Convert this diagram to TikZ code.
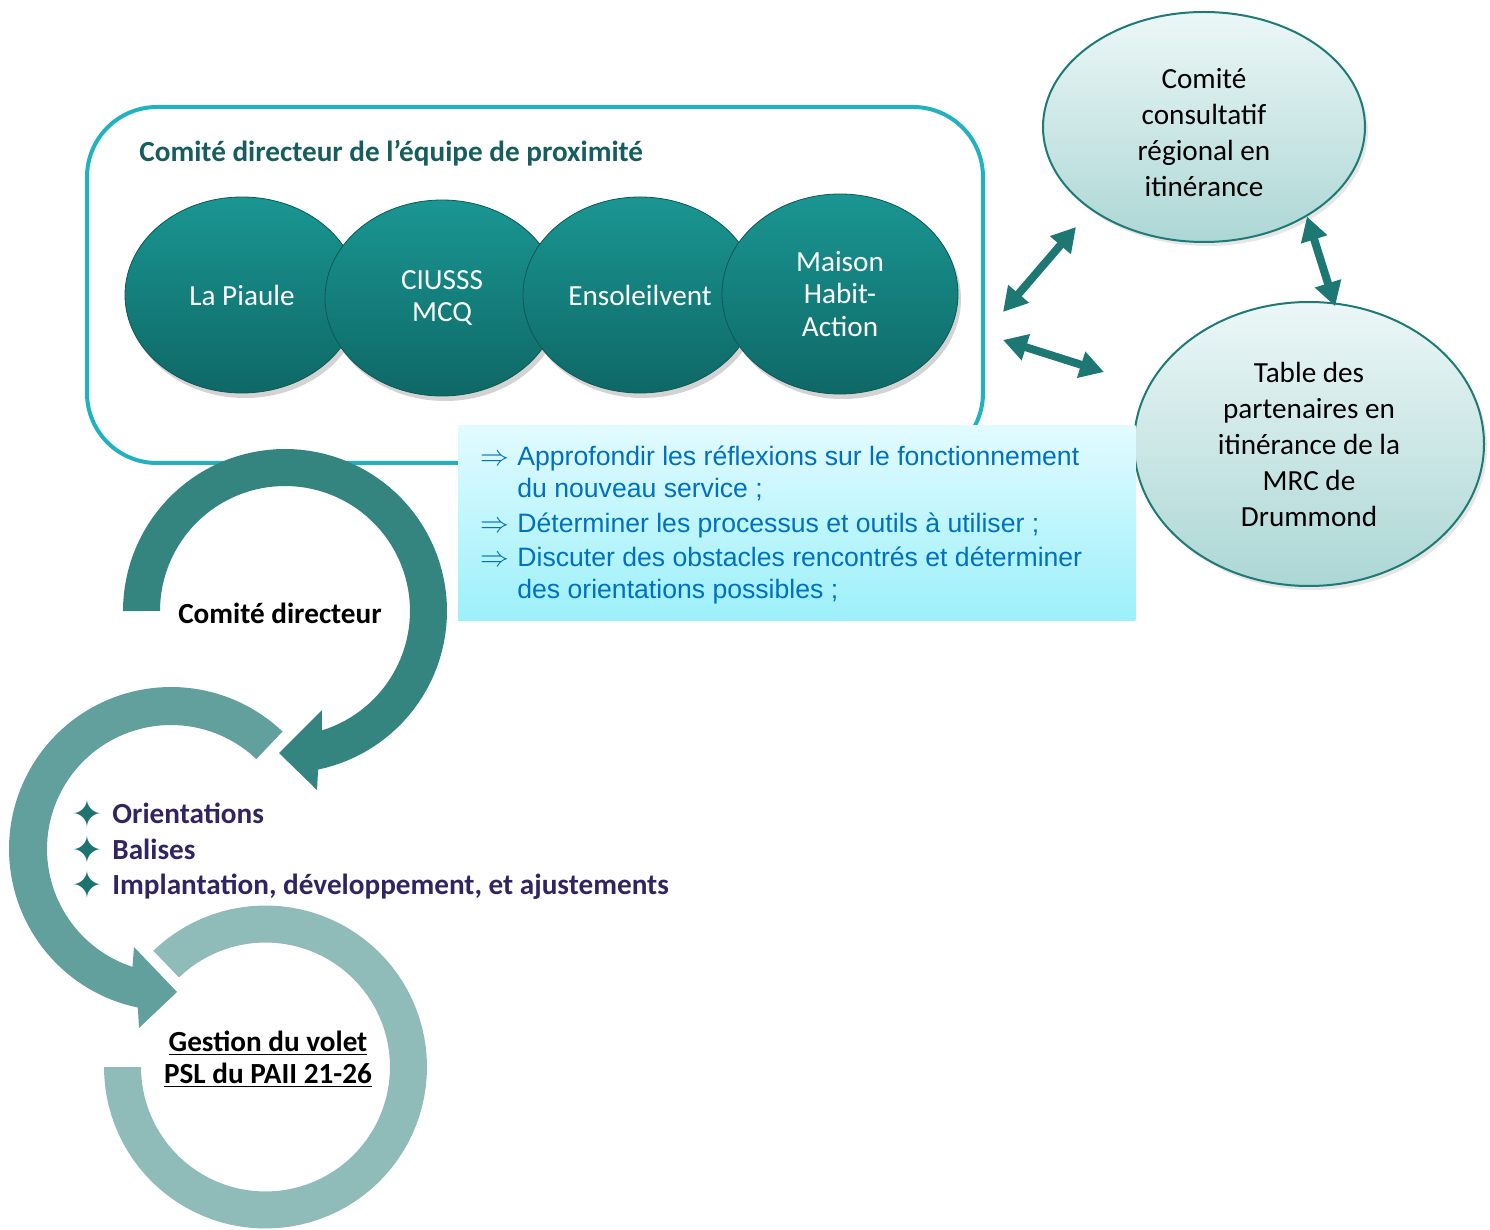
\documentclass[tikz,border=0pt]{standalone}
\usepackage{fontspec}
\setmainfont{Carlito}
\newfontfamily\arialfont{Liberation Sans}
\newfontfamily\symfont{DejaVu Sans}
\usetikzlibrary{shapes.geometric,arrows.meta,shadows}
\definecolor{boxcyan}{RGB}{32,178,192}
\definecolor{titleteal}{RGB}{22,94,94}
\definecolor{darktop}{RGB}{26,150,146}
\definecolor{darkbot}{RGB}{14,104,102}
\definecolor{darkedge}{RGB}{12,88,86}
\definecolor{lighttop}{RGB}{236,247,247}
\definecolor{lightbot}{RGB}{172,215,213}
\definecolor{lightedge}{RGB}{30,122,118}
\definecolor{arrteal}{RGB}{29,120,116}
\definecolor{bluetop}{RGB}{226,251,255}
\definecolor{bluebot}{RGB}{156,240,250}
\definecolor{bluetext}{RGB}{0,112,192}
\definecolor{ringa}{RGB}{52,132,127}
\definecolor{ringb}{RGB}{97,160,156}
\definecolor{ringc}{RGB}{143,187,184}
\definecolor{purpletext}{RGB}{50,36,96}
\definecolor{starteal}{RGB}{30,115,110}
\newcommand\fsz{\fontsize{14.6}{16.2}\selectfont}
\newcommand\fszl{\fontsize{14.6}{18}\selectfont}
\begin{document}
\begin{tikzpicture}[x=0.5pt,y=-0.5pt,
  darkell/.style={ellipse, inner sep=0pt, minimum width=117pt, minimum height=98pt,
    top color=darktop, bottom color=darkbot, draw=darkedge, line width=0.4pt,
    drop shadow={shadow xshift=1.5pt, shadow yshift=-2.5pt, opacity=0.35},
    text=white, align=center, font=\fsz},
  lightell/.style={ellipse, inner sep=0pt, top color=lighttop, bottom color=lightbot,
    draw=lightedge, line width=1pt,
    drop shadow={shadow xshift=1.5pt, shadow yshift=-2pt, opacity=0.2},
    text=black, align=center, font=\fszl},
  dblarrow/.style={draw=arrteal, line width=4pt,
    {Triangle[length=12pt,width=13pt]}-{Triangle[length=12pt,width=13pt]}},
  bluetxt/.style={anchor=base west, inner sep=0pt, text=bluetext, font=\arialfont\fontsize{13.3}{15.5}\selectfont},
  bullettxt/.style={anchor=base west, inner sep=0pt, text=purpletext, font=\bfseries\fsz},
  star/.style={text=starteal, inner sep=0pt, font=\symfont\fontsize{19}{19}\selectfont},
]
\useasboundingbox (0,0) rectangle (1490,1230);

% frame
\node[draw=boxcyan, line width=2pt, rounded corners=35pt, minimum width=448pt,
  minimum height=178pt, anchor=north west, inner sep=0pt] (frame) at (85,105) {};
\node[anchor=base west, inner sep=0pt, text=titleteal, font=\bfseries\fsz] (title) at (139,162)
  {Comité directeur de l’équipe de proximité};

% dark ellipses
\node[darkell] (piaule) at (242,295) {La Piaule};
\node[darkell] (ciusss) at (442,298) {CIUSSS\\MCQ};
\node[darkell] (ensol) at (640,295) {Ensoleilvent};
\node[darkell, minimum width=118pt, minimum height=100pt] (maison) at (840,294) {Maison\\Habit-\\Action};

% light ellipses
\node[lightell, minimum width=161pt, minimum height=115pt] (cc) at (1204,127)
  {\\[-2pt]Comité\\consultatif\\régional en\\itinérance};
\node[lightell, minimum width=175pt, minimum height=142pt] (tbl) at (1309,444)
  {Table des\\partenaires en\\itinérance de la\\MRC de\\Drummond};

% arrows
\coordinate (a1s) at (1003,312);
\coordinate (a1e) at (1076,227);
\coordinate (a2s) at (1003,340);
\coordinate (a2e) at (1104,372);
\draw[dblarrow] (a1s) -- (a1e);
\draw[dblarrow] (a2s) -- (a2e);
\draw[dblarrow, shorten >=-2pt] (cc.-41.7) -- (tbl.80);

% blue box
\node[anchor=north west, inner sep=0pt, minimum width=338.5pt, minimum height=97.5pt,
  top color=bluetop, bottom color=bluebot] (tasks) at (458,425) {};
\node[bluetxt] (t1a) at (480,466) {$\Rightarrow$};
\node[bluetxt] (t1) at (517,466) {Approfondir les réflexions sur le fonctionnement};
\node[bluetxt] (t1b) at (517,497) {du nouveau service ;};
\node[bluetxt] (t2a) at (480,532) {$\Rightarrow$};
\node[bluetxt] (t2) at (517,532) {Déterminer les processus et outils à utiliser ;};
\node[bluetxt] (t3a) at (480,567) {$\Rightarrow$};
\node[bluetxt] (t3) at (517,567) {Discuter des obstacles rencontrés et déterminer};
\node[bluetxt] (t3b) at (517,598) {des orientations possibles ;};

% rings
\fill[ringc] plot[domain=-134:180, samples=90] ({265.5+161.5*cos(\x)},{1067+161.5*sin(\x)})
  -- plot[domain=180:-134, samples=90] ({265.5+124.5*cos(\x)},{1067+124.5*sin(\x)}) -- cycle;
\fill[ringb] plot[domain=-46.5:-258.2, samples=90] ({171+162*cos(\x)},{849+162*sin(\x)})
  -- (139,1028) -- (177,992) -- (134,947)
  -- plot[domain=-251.9:-46.5, samples=90] ({171+124*cos(\x)},{849+124*sin(\x)}) -- cycle;
\fill[ringa] plot[domain=180:438.2, samples=90] ({285+162*cos(\x)},{611+162*sin(\x)})
  -- (317,790) -- (279,753) -- (322,710)
  -- plot[domain=432.8:180, samples=90] ({285+125*cos(\x)},{611+125*sin(\x)}) -- cycle;

% ring texts
\node[anchor=base, inner sep=0pt, font=\bfseries\fsz] (cdir) at (280,623) {Comité directeur};
\node[star] (s1) at (87,814) {✦};
\node[star] (s2) at (87,850) {✦};
\node[star] (s3) at (87,885) {✦};
\node[bullettxt] (b1) at (112,823) {Orientations};
\node[bullettxt] (b2) at (112,859) {Balises};
\node[bullettxt] (b3) at (112,894) {Implantation, développement, et ajustements};
\node[anchor=base, inner sep=0pt, font=\bfseries\fsz] (g1) at (268,1051) {\underline{Gestion du volet}};
\node[anchor=base, inner sep=0pt, font=\bfseries\fsz] (g2) at (268,1083) {\underline{PSL du PAII 21-26}};
\end{tikzpicture}
\end{document}
